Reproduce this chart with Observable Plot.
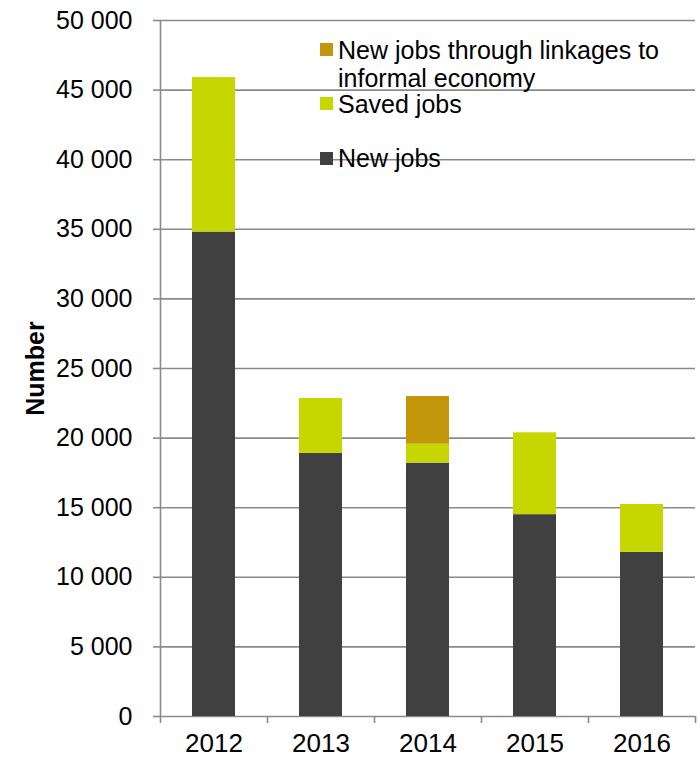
<!DOCTYPE html>
<html>
<head>
<meta charset="utf-8">
<script src="https://cdn.jsdelivr.net/npm/d3@7"></script>
<script src="https://cdn.jsdelivr.net/npm/@observablehq/plot@0.6"></script>
<style>
  html, body { margin: 0; padding: 0; background: #fff; }
  #wrap { position: relative; width: 700px; height: 758px; font-family: "Liberation Sans", Arial, sans-serif; }
  .lt { position: absolute; left: 338px; font-size: 25px; line-height: 28px; color: #000; white-space: nowrap; }
  .sw { position: absolute; left: 320px; width: 13px; height: 13px; }
</style>
</head>
<body>
<div id="wrap"></div>
<script>
const years = ["2012", "2013", "2014", "2015", "2016"];
const newJobs = [34800, 18900, 18200, 14500, 11800];
const savedJobs = [11100, 3950, 1360, 5880, 3430];
const informalJobs = [0, 0, 3430, 0, 0];
const seriesNames = ["New jobs", "Saved jobs", "New jobs through linkages to informal economy"];
const seriesColors = ["#404040", "#c5d600", "#c4960c"];
const yTicks = [0, 5000, 10000, 15000, 20000, 25000, 30000, 35000, 40000, 45000, 50000];

const data = [];
years.forEach((yr, i) => {
  data.push({year: yr, series: seriesNames[0], value: newJobs[i]});
  data.push({year: yr, series: seriesNames[1], value: savedJobs[i]});
  data.push({year: yr, series: seriesNames[2], value: informalJobs[i]});
});

const W = 700, H = 758, mL = 160, mR = 5, mT = 20, mB = 42;
const step = (W - mL - mR) / years.length;
const grid = "#8a8a8a";
const fmt = d => d3.format(",")(d).replace(/,/g, " ");

const chart = Plot.plot({
  width: W, height: H,
  marginLeft: mL, marginRight: mR, marginTop: mT, marginBottom: mB,
  style: {fontFamily: "'Liberation Sans', Arial, sans-serif", color: "#000", background: "#fff"},
  x: {type: "band", domain: years, paddingInner: 0.6, paddingOuter: 0.3},
  y: {domain: [0, 50000]},
  color: {domain: seriesNames, range: seriesColors},
  marks: [
    Plot.ruleY(yTicks, {y: d => d, stroke: grid, strokeWidth: 1.6}),
    Plot.barY(data, {x: "year", y: "value", fill: "series", order: seriesNames}),
    Plot.ruleX([years[0]], {x: d => d, dx: -step / 2, stroke: grid, strokeWidth: 1.6}),
    Plot.ruleX(years, {x: d => d, dx: -step / 2, y1: 0, y2: 0, insetBottom: -7, stroke: grid, strokeWidth: 1.6}),
    Plot.ruleX([years[years.length - 1]], {x: d => d, dx: step / 2, y1: 0, y2: 0, insetBottom: -7, stroke: grid, strokeWidth: 1.6}),
    Plot.axisY({ticks: yTicks, tickSize: 7, tickPadding: 21, tickFormat: fmt, stroke: grid, strokeWidth: 1.6, fontSize: 25, label: null}),
    Plot.axisX({tickSize: 0, tickPadding: 17, fontSize: 26, label: null}),
    Plot.text(["Number"], {frameAnchor: "left", dx: -125, rotate: -90, textAnchor: "middle", lineAnchor: "middle", fontWeight: "bold", fontSize: 25, text: d => d})
  ]
});

const wrap = document.getElementById("wrap");
wrap.appendChild(chart);

const legendTexts = [
  {text: "New jobs through linkages to", top: 36},
  {text: "informal economy", top: 64},
  {text: "Saved jobs", top: 90},
  {text: "New jobs", top: 144}
];
const legendSwatches = [
  {color: seriesColors[2], top: 43},
  {color: seriesColors[1], top: 97},
  {color: seriesColors[0], top: 152}
];
legendSwatches.forEach(s => {
  const el = document.createElement("div");
  el.className = "sw";
  el.style.top = s.top + "px";
  el.style.background = s.color;
  wrap.appendChild(el);
});
legendTexts.forEach(t => {
  const el = document.createElement("div");
  el.className = "lt";
  el.style.top = t.top + "px";
  el.textContent = t.text;
  wrap.appendChild(el);
});
</script>
</body>
</html>
